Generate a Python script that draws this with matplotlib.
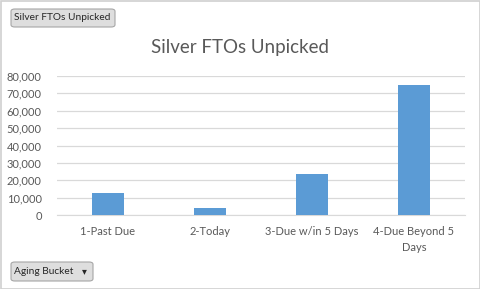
import matplotlib.pyplot as plt
from matplotlib.patches import FancyBboxPatch, Rectangle
from matplotlib.ticker import FuncFormatter

categories = ['1-Past Due', '2-Today', '3-Due w/in 5 Days', '4-Due Beyond 5\nDays']
values = [12500, 4000, 23800, 75000]
title = 'Silver FTOs Unpicked'
filter_label = 'Aging Bucket'

plt.rcParams['font.family'] = ['Lato', 'DejaVu Sans']
W, H = 481, 289
fig = plt.figure(figsize=(W / 100, H / 100), dpi=100)
fig.patch.set_facecolor('white')

# outer frame
fig.patches.append(Rectangle((0.5 / W, 0.5 / H), 1 - 1.5 / W, 1 - 1.5 / H, transform=fig.transFigure,
                             fill=False, edgecolor='#D0D0D0', linewidth=1.2))

ax = fig.add_axes([57 / W, 1 - 215 / H, (465 - 57) / W, (215 - 76) / H])
x = range(len(categories))
ax.bar(x, values, width=0.31, color='#5B9BD5', zorder=3)
ax.set_xlim(-0.5, len(categories) - 0.5)
ax.set_ylim(0, 80000)
ax.set_yticks(range(0, 80001, 10000))
ax.yaxis.set_major_formatter(FuncFormatter(lambda v, p: f'{int(v):,}'))
ax.set_xticks(list(x))
ax.set_xticklabels(categories, fontsize=8, color='#595959', linespacing=1.5)
ax.tick_params(axis='y', labelsize=8, labelcolor='#595959', length=0, pad=11)
ax.tick_params(axis='x', length=0, pad=8)
ax.grid(axis='y', color='#D9D9D9', linewidth=0.9, zorder=0)
for s in ['top', 'right', 'left']:
    ax.spines[s].set_visible(False)
ax.spines['bottom'].set_color('#D9D9D9')

fig.text(0.5, 1 - 48 / H, title, ha='center', va='center',
         fontsize=13.5, color='#595959')

# field buttons
def button(x0, y0, w, h, label, arrow=False):
    fig.patches.append(FancyBboxPatch((x0 / W, 1 - (y0 + h) / H), w / W, h / H,
                                      boxstyle='round,pad=0,rounding_size=0.008',
                                      transform=fig.transFigure, facecolor='#DEDEDE',
                                      edgecolor='#A6A6A6', linewidth=0.8))
    fig.text((x0 + 3) / W, 1 - (y0 + h / 2) / H, label, ha='left', va='center',
             fontsize=7.3, color='#262626')
    if arrow:
        fig.text((x0 + w - 9) / W, 1 - (y0 + h / 2) / H, '\u25BE', ha='center', va='center',
                 fontsize=7, color='#262626', family='DejaVu Sans')

button(11, 9, 104, 18, title)
button(11, 262, 82, 19, filter_label, arrow=True)

fig.savefig('out.png', dpi=100)
